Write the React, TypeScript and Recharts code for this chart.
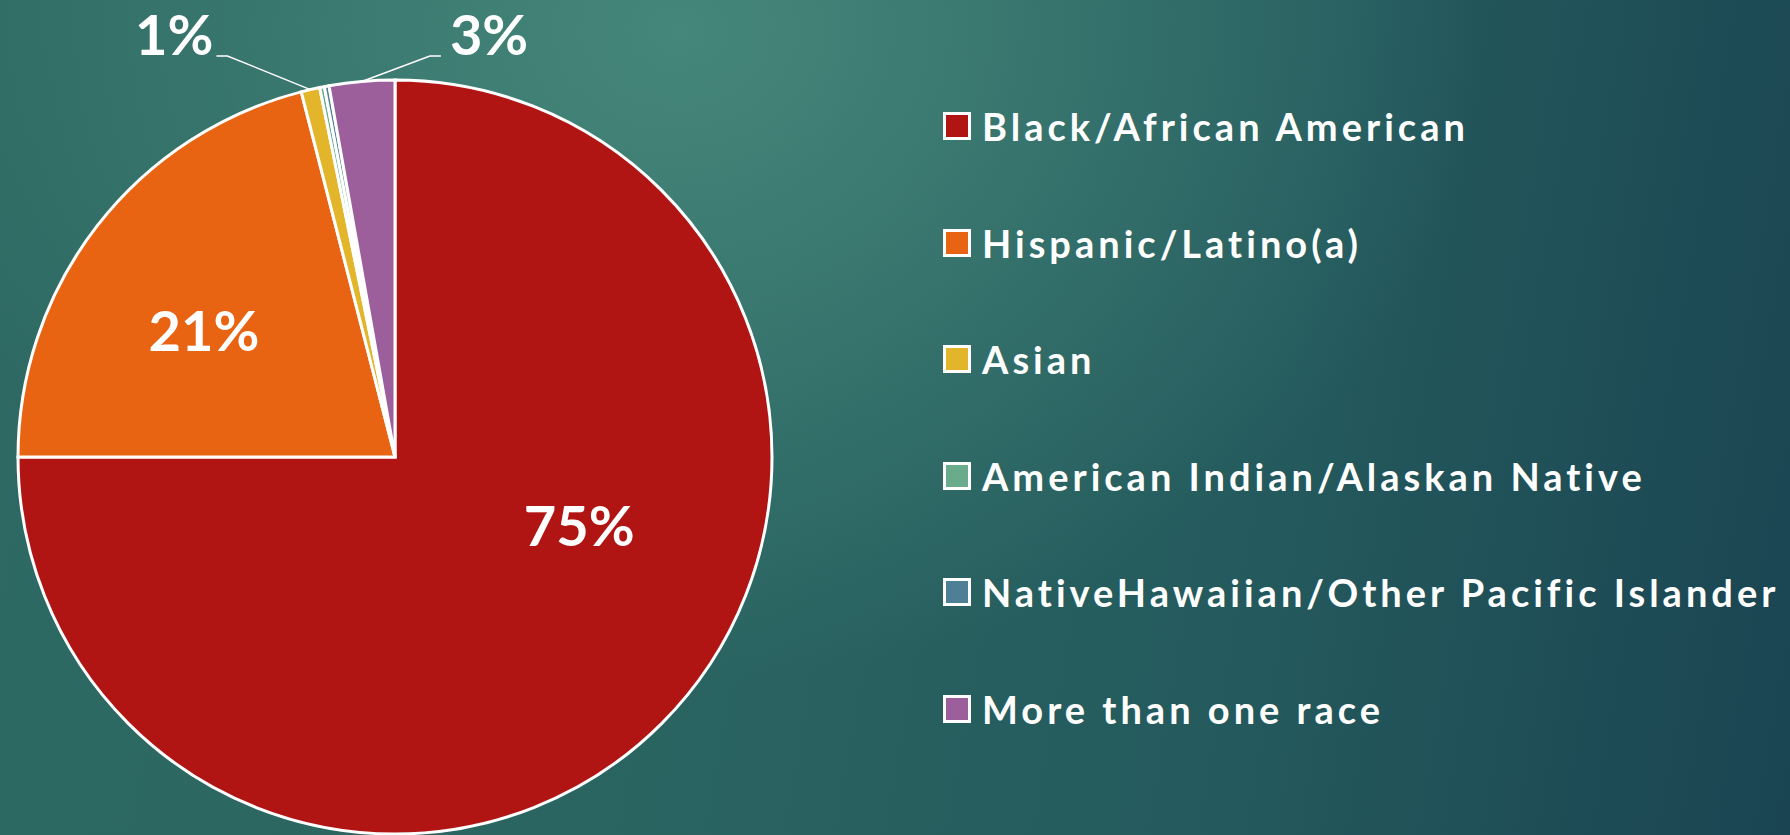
import { PieChart, Pie, Cell, Legend } from "recharts";

const GROUPS = [
  "Black/African American",
  "Hispanic/Latino(a)",
  "Asian",
  "American Indian/Alaskan Native",
  "NativeHawaiian/Other Pacific Islander",
  "More than one race",
];
const SHARES = [75.0, 21.0, 0.8, 0.2, 0.2, 2.8];
const SHOW_LABEL = [true, true, true, false, false, true];
const COLORS = ["#b01513", "#e96412", "#e3b52a", "#6aab8c", "#4f7f97", "#9c5f9b"];

const data = GROUPS.map((name, i) => ({ name, value: SHARES[i] }));

const FONT = "Lato, 'DejaVu Sans', sans-serif";
const RAD = Math.PI / 180;
const polar = (cx: number, cy: number, r: number, a: number) => ({
  x: cx + r * Math.cos(-a * RAD),
  y: cy + r * Math.sin(-a * RAD),
});

// where the big labels sit inside their slice (PowerPoint best-fit look)
const INSIDE: Record<number, { turn: number; dist: number }> = {
  0: { turn: 25, dist: 0.52 },
  1: { turn: 4, dist: 0.61 },
};
// horizontal reach of leader lines for thin slices
const LEADER: Record<number, number> = { 2: -83, 5: 68 };

function renderLabel(props: any) {
  const { cx, cy, midAngle, outerRadius, index, value } = props;
  if (!SHOW_LABEL[index]) return null;
  const text = `${Math.round(value)}%`;
  const style = { fontFamily: FONT, fontWeight: 700, fontSize: 56, fill: "#fff" };
  const inside = INSIDE[index];
  if (inside) {
    const p = polar(cx, cy, outerRadius * inside.dist, midAngle + inside.turn);
    return (
      <text x={p.x} y={p.y} textAnchor="middle" dominantBaseline="central" {...style}>
        {text}
      </text>
    );
  }
  const reach = LEADER[index] ?? 60;
  const dir = Math.sign(reach);
  const e = polar(cx, cy, outerRadius, midAngle);
  const ky = cy - outerRadius - 24;
  const kx = e.x + reach;
  const hx = kx + dir * 11;
  return (
    <g>
      <polyline
        points={`${e.x},${e.y} ${kx},${ky} ${hx},${ky}`}
        fill="none"
        stroke="#fff"
        strokeWidth={1.5}
      />
      <text
        x={hx + dir * (dir < 0 ? 3 : 9)}
        y={ky - 23}
        textAnchor={dir < 0 ? "end" : "start"}
        dominantBaseline="central"
        {...style}
      >
        {text}
      </text>
    </g>
  );
}

// legend keeps the data order (Recharts would sort it by name)
function renderLegend() {
  return (
    <div style={{ fontFamily: FONT }}>
      {GROUPS.map((name, i) => (
        <div key={name} style={{ height: 116.5, display: "flex", alignItems: "center" }}>
          <span
            style={{
              width: 22,
              height: 22,
              border: "3px solid #fff",
              background: COLORS[i],
              marginRight: 11,
              flexShrink: 0,
            }}
          />
          <span
            style={{
              color: "#fff",
              fontWeight: 700,
              fontSize: 38,
              letterSpacing: 4,
              whiteSpace: "nowrap",
            }}
          >
            {name}
          </span>
        </div>
      ))}
    </div>
  );
}

export default function App() {
  return (
    <div
      style={{
        position: "fixed",
        left: 0,
        top: 0,
        width: 1790,
        height: 835,
        overflow: "hidden",
        background:
          "radial-gradient(ellipse 800px 650px at 680px 30px, rgba(74,141,127,0.85) 0%, rgba(74,141,127,0) 100%), " +
          "linear-gradient(100deg, #2e6a63 0%, #2a6461 40%, #245a5d 70%, #1a4452 100%)",
      }}
    >
      <PieChart width={1790} height={835} margin={{ top: 0, right: 0, bottom: 0, left: 0 }}>
        <Pie
          data={data}
          dataKey="value"
          nameKey="name"
          cx={395}
          cy={457}
          outerRadius={377}
          startAngle={90}
          endAngle={-270}
          stroke="#fff"
          strokeWidth={3}
          label={renderLabel}
          labelLine={false}
          isAnimationActive={false}
        >
          {data.map((d, i) => (
            <Cell key={d.name} fill={COLORS[i]} />
          ))}
        </Pie>
        <Legend
          layout="vertical"
          align="right"
          verticalAlign="top"
          content={renderLegend}
          wrapperStyle={{ left: 943, top: 68, width: 840 }}
        />
      </PieChart>
    </div>
  );
}
